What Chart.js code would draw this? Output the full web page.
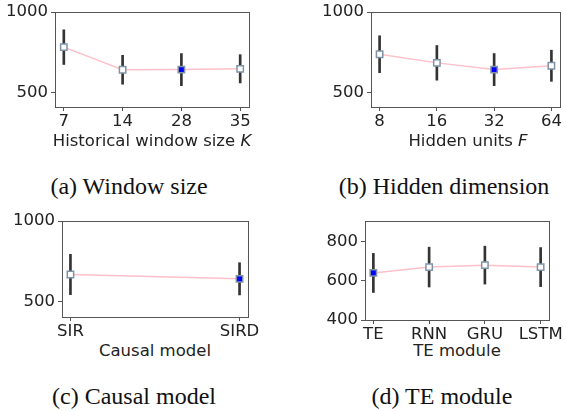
<!DOCTYPE html>
<html>
<head>
<meta charset="utf-8">
<script src="https://cdn.jsdelivr.net/npm/chart.js@4/dist/chart.umd.min.js"></script>
<style>
  body { margin: 0; background: #fff; width: 566px; height: 411px; position: relative; overflow: hidden; }
  canvas { position: absolute; }
  .lbl { position: absolute; font-family: "DejaVu Sans", sans-serif; font-size: 16.5px; color: #222; white-space: nowrap; transform: translateX(-50%); }
  .cap { position: absolute; font-family: "Liberation Serif", "Times New Roman", serif; font-size: 24px; color: #111; white-space: nowrap; transform: translateX(-50%); }
</style>
</head>
<body>
<canvas id="chartA" width="283" height="135" style="left:0;top:0"></canvas>
<canvas id="chartB" width="283" height="135" style="left:283px;top:0"></canvas>
<canvas id="chartC" width="283" height="140" style="left:0;top:200px"></canvas>
<canvas id="chartD" width="283" height="140" style="left:283px;top:200px"></canvas>

<div class="lbl" style="left:152px;top:131px">Historical window size <i>K</i></div>
<div class="lbl" style="left:468px;top:131px">Hidden units <i>F</i></div>
<div class="lbl" style="left:155px;top:341px">Causal model</div>
<div class="lbl" style="left:457px;top:341px">TE module</div>

<div class="cap" style="left:129px;top:173px">(a) Window size</div>
<div class="cap" style="left:444px;top:173px">(b) Hidden dimension</div>
<div class="cap" style="left:134px;top:383px">(c) Causal model</div>
<div class="cap" style="left:442px;top:383px">(d) TE module</div>

<script>
// (a) historical window size
const windowLabels = ['7', '14', '28', '35'];
const windowMae = [781, 640, 641, 646];
const windowErr = [108, 90, 100, 88];

// (b) hidden units
const hiddenLabels = ['8', '16', '32', '64'];
const hiddenMae = [737, 683, 641, 665];
const hiddenErr = [115, 108, 100, 97];

// (c) causal model
const causalLabels = ['SIR', 'SIRD'];
const causalMae = [668, 641];
const causalErr = [125, 100];

// (d) TE module
const teLabels = ['TE', 'RNN', 'GRU', 'LSTM'];
const teMae = [641, 671, 681, 671];
const teErr = [100, 102, 97, 100];

const yTicksBig = [500, 1000];
const yTicksTE = [400, 600, 800];

// frame around the plot area (matplotlib spines)
const framePlugin = {
  id: 'frame',
  afterDraw(chart) {
    const a = chart.chartArea;
    const ctx = chart.ctx;
    ctx.save();
    ctx.strokeStyle = '#555';
    ctx.lineWidth = 1;
    ctx.strokeRect(Math.round(a.left) + 0.5, Math.round(a.top) + 0.5,
      Math.round(a.right - a.left), Math.round(a.bottom - a.top));
    ctx.restore();
  }
};

function makeChart(id, labels, mae, err, best, yTicks, yMin, yMax, box) {
  const n = labels.length;
  const margin = (n - 1) * 0.05;
  const pts = mae.map((v, i) => ({ x: i, y: v }));
  const bars = mae.map((v, i) => ({ x: i, y: [v - err[i], v + err[i]] }));
  const fill = mae.map((v, i) => i === best ? '#0000ff' : '#ffffff');

  return new Chart(document.getElementById(id), {
    type: 'line',
    data: {
      datasets: [
        {
          type: 'line',
          data: pts,
          borderColor: '#ffc0cb',
          borderWidth: 1.5,
          pointStyle: 'rect',
          pointRadius: 4.5,
          pointBorderWidth: 1.5,
          pointBorderColor: '#8092a8',
          pointBackgroundColor: fill,
          order: 1
        },
        {
          type: 'bar',
          data: bars,
          backgroundColor: '#333333',
          borderWidth: 0,
          barThickness: 2,
          order: 2
        }
      ]
    },
    options: {
      responsive: false,
      animation: false,
      layout: { padding: { top: box.top, right: box.right, left: 0, bottom: 0 } },
      plugins: { legend: { display: false }, tooltip: { enabled: false } },
      scales: {
        x: {
          type: 'linear',
          min: -margin,
          max: n - 1 + margin,
          offset: false,
          grid: { display: true, drawOnChartArea: false, offset: false, tickLength: 4, tickColor: '#555' },
          border: { display: false },
          afterBuildTicks: s => { s.ticks = labels.map((l, i) => ({ value: i })); },
          afterFit: s => { s.height = box.xh; s.paddingLeft = 0; s.paddingRight = 0; },
          ticks: {
            autoSkip: false,
            maxRotation: 0,
            padding: 1,
            color: '#222',
            font: { family: 'DejaVu Sans', size: 16.5 },
            callback: v => labels[v]
          }
        },
        y: {
          min: yMin,
          max: yMax,
          grid: { display: true, drawOnChartArea: false, tickLength: 4, tickColor: '#555' },
          border: { display: false },
          afterBuildTicks: s => { s.ticks = yTicks.map(v => ({ value: v })); },
          afterFit: s => { s.width = box.yw; s.paddingTop = 0; s.paddingBottom = 0; },
          ticks: {
            padding: 3,
            color: '#222',
            font: { family: 'DejaVu Sans', size: 16.5 },
            callback: v => String(v)
          }
        }
      }
    },
    plugins: [framePlugin]
  });
}

makeChart('chartA', windowLabels, windowMae, windowErr, 2, yTicksBig, 408, 1000,
  { top: 12, right: 34, yw: 55, xh: 135 - 107 });
makeChart('chartB', hiddenLabels, hiddenMae, hiddenErr, 2, yTicksBig, 408, 1000,
  { top: 12, right: 1, yw: 88, xh: 135 - 107 });
makeChart('chartC', causalLabels, causalMae, causalErr, 1, yTicksBig, 404, 1000,
  { top: 21, right: 35, yw: 62, xh: 140 - 117 });
makeChart('chartD', teLabels, teMae, teErr, 0, yTicksTE, 400, 907,
  { top: 21, right: 17, yw: 82, xh: 140 - 120 });
</script>
</body>
</html>
